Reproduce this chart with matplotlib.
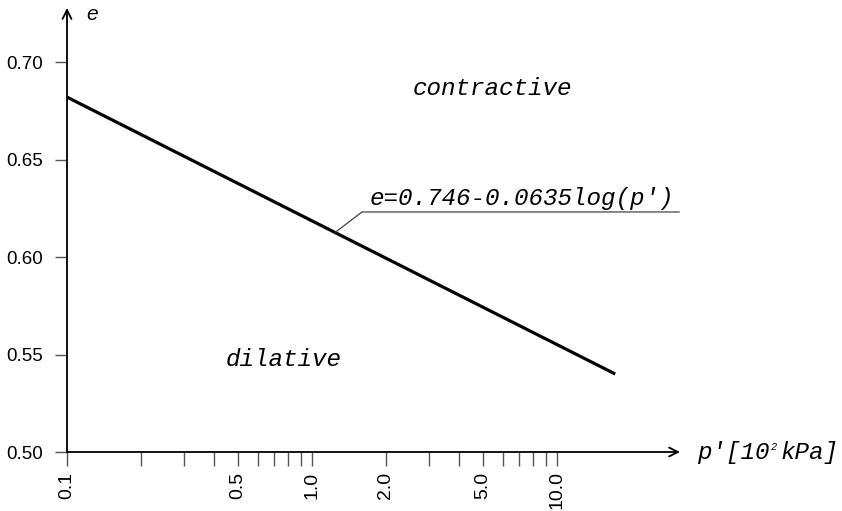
import matplotlib
matplotlib.use("Agg")
import matplotlib.pyplot as plt
from matplotlib.ticker import FixedLocator, NullFormatter

# line
p_line = [0.1, 17.3]
e_line = [0.682, 0.540]

# leader line for the equation label
p_leader = [1.25, 1.60, 31.5]
e_leader = [0.6128, 0.6231, 0.6231]

x_major = [0.1, 0.5, 1.0, 2.0, 5.0, 10.0]
x_major_labels = ["0.1", "0.5", "1.0", "2.0", "5.0", "10.0"]
x_minor = [0.2, 0.3, 0.4, 0.6, 0.7, 0.8, 0.9, 3.0, 4.0, 6.0, 7.0, 8.0, 9.0]
y_ticks = [0.50, 0.55, 0.60, 0.65, 0.70]
y_labels = ["0.50", "0.55", "0.60", "0.65", "0.70"]

mono = "Liberation Mono"
sans = "Liberation Sans"

fig = plt.figure(figsize=(8.42, 5.11), dpi=100)
ax = fig.add_axes([67 / 842, (511 - 452) / 511, (680 - 67) / 842, (452 - 8) / 511])

ax.set_xscale("log")
ax.set_xlim(0.1, 31.8)
ax.set_ylim(0.5, 0.7277)

for s in ax.spines.values():
    s.set_visible(False)

# axes with arrow heads
ax.annotate("", xy=(1, 0), xytext=(0, 0), xycoords="axes fraction",
            arrowprops=dict(arrowstyle="->", lw=1.3, color="black",
                            mutation_scale=16, shrinkA=0, shrinkB=0))
ax.annotate("", xy=(0, 1), xytext=(0, 0), xycoords="axes fraction",
            arrowprops=dict(arrowstyle="->", lw=1.3, color="black",
                            mutation_scale=16, shrinkA=0, shrinkB=0))

ax.xaxis.set_major_locator(FixedLocator(x_major))
ax.xaxis.set_minor_locator(FixedLocator(x_minor))
ax.set_xticklabels(x_major_labels, rotation=90, fontsize=14, family=sans)
ax.xaxis.set_minor_formatter(NullFormatter())
ax.tick_params(axis="x", which="both", direction="out", length=10, width=1,
               color="#555555", pad=4)

ax.set_yticks(y_ticks)
ax.set_yticklabels(y_labels, fontsize=13.5, family=sans)
ax.tick_params(axis="y", direction="out", length=9, width=1,
               color="#555555", pad=8.5)

ax.plot(p_line, e_line, color="black", lw=2.3, solid_capstyle="butt")
ax.plot(p_leader, e_leader, color="#444444", lw=0.9)

ax.text(1.72, 0.6267, "e=0.746-0.0635log(p')", family=mono, style="italic",
        fontsize=17.5, va="baseline", ha="left")
ax.text(2.57, 0.683, "contractive", family=mono, style="italic",
        fontsize=17.5, va="baseline", ha="left")
ax.text(0.446, 0.544, "dilative", family=mono, style="italic",
        fontsize=17.5, va="baseline", ha="left")

# axis titles
ax.text(0.12, 0.7215, "e", family=sans, style="italic", fontsize=15,
        va="baseline", ha="left", clip_on=False)
ax.text(37.3, 0.4964, "p'[10", family=mono, style="italic", fontsize=17.5,
        va="baseline", ha="left", clip_on=False)
ax.text(75.0, 0.5008, "2", family=mono, style="italic", fontsize=7.5,
        va="baseline", ha="left", clip_on=False)
ax.text(81.5, 0.4964, "kPa]", family=mono, style="italic", fontsize=17.5,
        va="baseline", ha="left", clip_on=False)

fig.savefig("out.png", dpi=100)
